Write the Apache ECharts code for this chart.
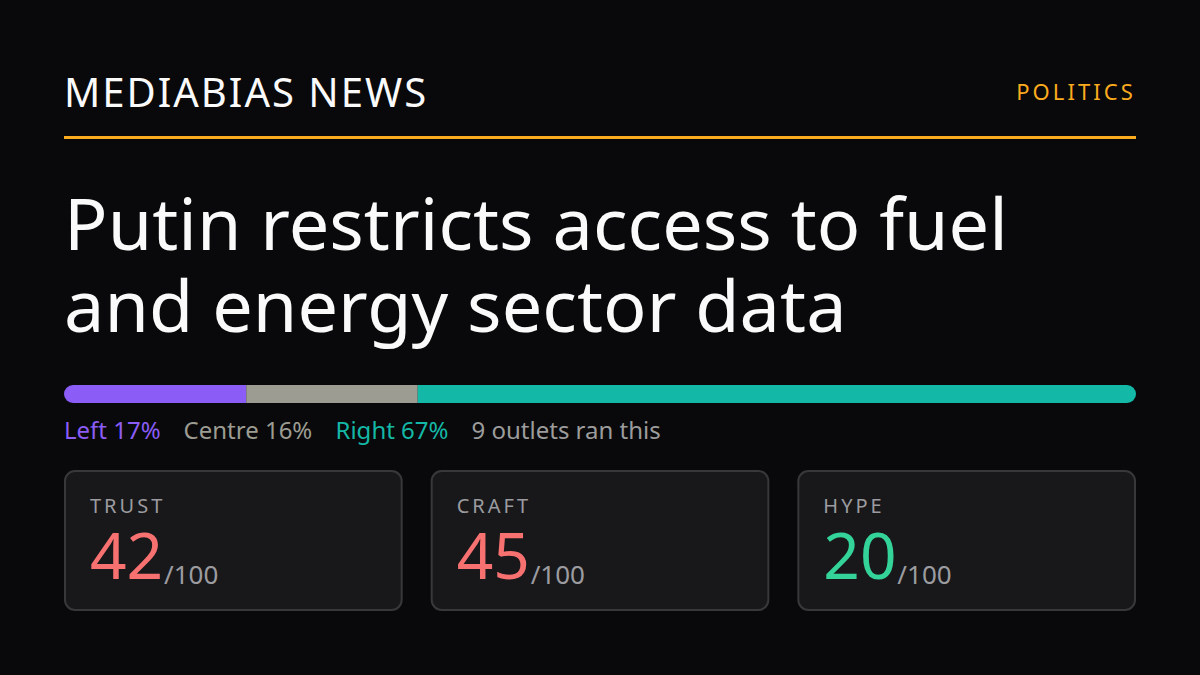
<!DOCTYPE html>
<html>
<head>
<meta charset="utf-8">
<style>html,body{margin:0;padding:0;background:#09090b}#chart{width:1200px;height:675px}</style>
<script src="https://cdn.jsdelivr.net/npm/echarts@6/dist/echarts.min.js"></script>
</head>
<body>
<div id="chart"></div>
<script>
var brand = 'MEDIABIAS NEWS';
var section = 'POLITICS';
var headline = ['Putin restricts access to fuel', 'and energy sector data'];
var sides = ['Left', 'Centre', 'Right'];
var shares = [17, 16, 67];
var outlets = '9 outlets ran this';
var scoreNames = ['TRUST', 'CRAFT', 'HYPE'];
var scores = [42, 45, 20];
var scoreColors = ['#f87171', '#f87171', '#34d399'];
var sideColors = ['#8b5cf6', '#9c9c92', '#14b8a6'];
var font = '"Noto Sans"';

var chart = echarts.init(document.getElementById('chart'), null, {renderer: 'svg'});

function txt(x, y, text, size, color, align) {
    return {
        type: 'text',
        x: x, y: y,
        style: {
            text: text,
            fontFamily: font,
            fontSize: size,
            fill: color,
            textAlign: align || 'left',
            textVerticalAlign: 'bottom'
        }
    };
}

var graphics = [
    txt(64, 111, brand, 40, '#fafafa'),
    txt(1136, 102, section, 22, '#fbab1e', 'right'),
    {type: 'rect', shape: {x: 64, y: 136, width: 1072, height: 3}, style: {fill: '#fbab1e'}},
    txt(64, 258, headline[0], 72, '#fafafa'),
    txt(64, 340, headline[1], 72, '#fafafa')
];

var legendX = [64, 183.5, 335.5];
sides.forEach(function (s, i) {
    graphics.push(txt(legendX[i], 441, s + ' ' + shares[i] + '%', 24, sideColors[i]));
});
graphics.push(txt(471.5, 441, outlets, 24, '#9c9c9c'));

var cardW = (1072 - 56) / 3;
scoreNames.forEach(function (n, i) {
    var cx = 64 + i * (cardW + 28);
    graphics.push({
        type: 'rect',
        shape: {x: cx + 1, y: 471, width: cardW - 2, height: 139, r: 10},
        style: {fill: '#18181b', stroke: '#38383a', lineWidth: 2}
    });
    graphics.push(txt(cx + 26, 515, n, 20, '#9c9ca0'));
    graphics.push(txt(cx + 26, 586, String(scores[i]), 64, scoreColors[i]));
    graphics.push(txt(cx + 100, 587, '/100', 26, '#9c9ca0'));
});

var option = {
    backgroundColor: '#09090b',
    animation: false,
    grid: {left: 64, top: 385, width: 1072, height: 18},
    xAxis: {type: 'value', min: 0, max: 100, show: false},
    yAxis: {type: 'category', data: ['share'], show: false},
    series: sides.map(function (s, i) {
        return {
            name: s,
            type: 'bar',
            stack: 'share',
            barWidth: 18,
            itemStyle: {
                color: sideColors[i],
                borderRadius: i === 0 ? [9, 0, 0, 9] : (i === 2 ? [0, 9, 9, 0] : 0)
            },
            data: [shares[i]]
        };
    }),
    graphic: graphics
};
chart.setOption(option);

// zrender has no letter spacing, so it goes on the svg text nodes
function spaceLetters() {
    document.querySelectorAll('#chart text').forEach(function (el) {
        var t = el.textContent;
        if (t === brand) el.style.letterSpacing = '2px';
        else if (t === section) el.style.letterSpacing = '3.08px';
        else if (headline.indexOf(t) >= 0) el.style.letterSpacing = '0.07px';
        else if (scoreNames.indexOf(t) >= 0) el.style.letterSpacing = '3px';
    });
}
spaceLetters();
chart.on('finished', spaceLetters);
</script>
</body>
</html>
